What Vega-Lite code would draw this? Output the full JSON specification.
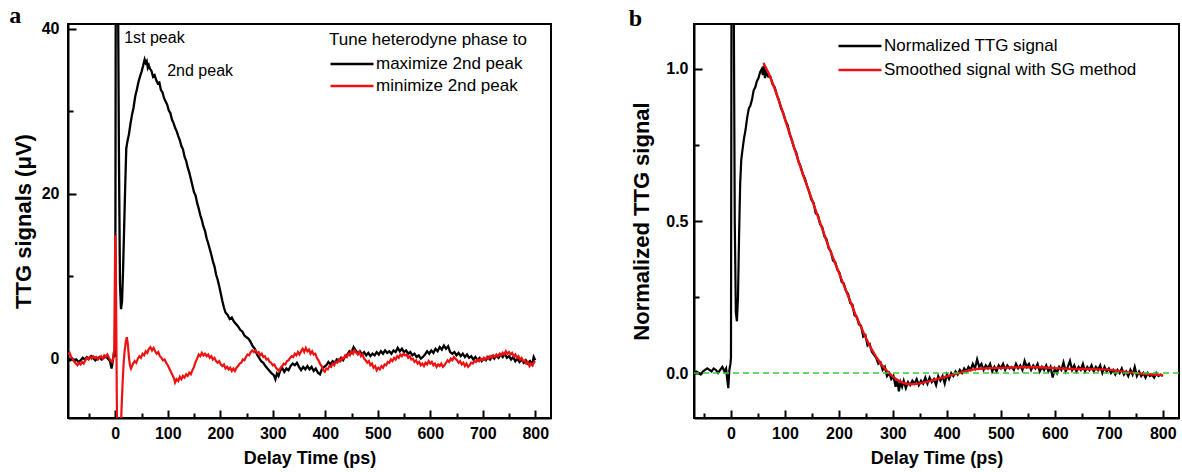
{
  "$schema": "https://vega.github.io/schema/vega-lite/v6.json",
  "padding": {"left": 8, "top": 2, "right": 5, "bottom": 5},
  "background": "white",
  "bounds": "flush",
  "spacing": 143,
  "resolve": {"scale": {"color": "independent"}, "legend": {"color": "independent"}},
  "config": {
    "font": "Liberation Sans",
    "view": {"stroke": "black", "strokeWidth": 2},
    "axis": {
      "grid": false,
      "domainColor": "black",
      "domainWidth": 2,
      "tickColor": "black",
      "tickWidth": 2,
      "tickSize": -8,
      "labelFont": "Liberation Sans",
      "labelFontWeight": "bold",
      "labelFontSize": 16,
      "labelColor": "black",
      "titleFont": "Liberation Sans",
      "titleFontWeight": "bold",
      "titleFontSize": 18,
      "titleColor": "black"
    },
    "legend": {
      "labelFont": "Liberation Sans",
      "labelFontSize": 17,
      "labelColor": "black",
      "labelLimit": 0,
      "titleLimit": 0,
      "titleFont": "Liberation Sans",
      "titleFontSize": 17,
      "titleFontWeight": "normal",
      "titleColor": "black",
      "symbolType": "stroke",
      "symbolSize": 1849,
      "symbolStrokeWidth": 2.5,
      "clipHeight": 16,
      "labelOffset": 1,
      "padding": 0
    },
    "title": {"font": "Liberation Serif", "fontSize": 24, "fontWeight": "bold", "color": "black", "anchor": "start", "frame": "bounds"}
  },
  "datasets": {
    "aK": [
      {"t":-90,"v":0.1},{"t":-86,"v":-0.2},{"t":-82,"v":0.0},{"t":-78,"v":-0.3},{"t":-74,"v":-0.1},{"t":-70,"v":-0.4},{"t":-66,"v":-0.2},{"t":-62,"v":0.1},{"t":-58,"v":-0.1},{"t":-54,"v":0.2},{"t":-50,"v":0.0},{"t":-46,"v":0.3},{"t":-42,"v":0.1},{"t":-38,"v":-0.2},{"t":-34,"v":0.0},{"t":-30,"v":0.2},{"t":-26,"v":-0.1},{"t":-22,"v":0.1},{"t":-18,"v":0.3},{"t":-14,"v":0.0},{"t":-10,"v":-0.3},{"t":-7,"v":-1.2},{"t":-5,"v":-0.4},{"t":-3,"v":0.5},{"t":-1,"v":0.2},{"t":0,"v":2},{"t":1,"v":48},{"t":5,"v":48},{"t":7,"v":25},{"t":9,"v":9},{"t":11,"v":6},{"t":13,"v":7},{"t":15,"v":11},{"t":17,"v":16},{"t":19,"v":21},{"t":21,"v":25.5},{"t":23,"v":26.3},{"t":26,"v":27.2},{"t":29,"v":28.5},{"t":32,"v":29.6},{"t":35,"v":30.5},{"t":38,"v":31.8},{"t":41,"v":32.6},{"t":44,"v":33.5},{"t":47,"v":34.2},{"t":50,"v":34.8},{"t":53,"v":35.5},{"t":56,"v":36.3},{"t":58,"v":35.9},{"t":60,"v":36.1},{"t":62,"v":35.3},{"t":64,"v":35.6},{"t":66,"v":35.2},{"t":69,"v":34.9},{"t":72,"v":34.2},{"t":75,"v":34.4},{"t":78,"v":33.8},{"t":81,"v":33.4},{"t":84,"v":33.5},{"t":87,"v":32.6},{"t":90,"v":32.3},{"t":93,"v":31.6},{"t":96,"v":31.2},{"t":99,"v":30.8},{"t":102,"v":30.1},{"t":105,"v":29.8},{"t":108,"v":29.0},{"t":111,"v":28.6},{"t":114,"v":28.0},{"t":117,"v":27.6},{"t":120,"v":27.0},{"t":123,"v":26.5},{"t":126,"v":25.8},{"t":129,"v":25.4},{"t":132,"v":24.5},{"t":135,"v":24.0},{"t":138,"v":23.2},{"t":141,"v":22.6},{"t":144,"v":21.8},{"t":147,"v":21.0},{"t":150,"v":20.2},{"t":153,"v":19.8},{"t":156,"v":18.9},{"t":159,"v":18.2},{"t":162,"v":17.4},{"t":165,"v":16.8},{"t":168,"v":16.0},{"t":171,"v":15.5},{"t":174,"v":14.6},{"t":177,"v":14.0},{"t":180,"v":13.3},{"t":183,"v":12.6},{"t":186,"v":11.8},{"t":189,"v":11.2},{"t":192,"v":10.2},{"t":195,"v":9.6},{"t":198,"v":8.8},{"t":201,"v":7.9},{"t":204,"v":7.0},{"t":207,"v":6.2},{"t":210,"v":5.6},{"t":214,"v":5.3},{"t":218,"v":4.8},{"t":222,"v":5.0},{"t":226,"v":4.5},{"t":230,"v":4.2},{"t":234,"v":3.9},{"t":238,"v":3.5},{"t":242,"v":3.3},{"t":246,"v":2.8},{"t":250,"v":2.6},{"t":254,"v":2.4},{"t":258,"v":2.0},{"t":262,"v":1.5},{"t":266,"v":1.2},{"t":270,"v":0.5},{"t":274,"v":0.1},{"t":278,"v":-0.3},{"t":282,"v":-0.5},{"t":286,"v":-0.9},{"t":290,"v":-1.2},{"t":294,"v":-1.5},{"t":298,"v":-1.8},{"t":302,"v":-2.0},{"t":305,"v":-2.5},{"t":308,"v":-1.8},{"t":311,"v":-2.1},{"t":314,"v":-1.5},{"t":318,"v":-1.1},{"t":322,"v":-1.6},{"t":326,"v":-1.2},{"t":330,"v":-1.4},{"t":334,"v":-0.9},{"t":338,"v":-0.6},{"t":342,"v":-0.8},{"t":346,"v":-0.5},{"t":350,"v":-1.0},{"t":354,"v":-1.4},{"t":358,"v":-1.0},{"t":362,"v":-1.3},{"t":366,"v":-0.9},{"t":370,"v":-1.3},{"t":374,"v":-1.0},{"t":378,"v":-1.5},{"t":382,"v":-1.2},{"t":386,"v":-1.7},{"t":390,"v":-1.9},{"t":394,"v":-1.2},{"t":398,"v":-1.0},{"t":402,"v":-0.8},{"t":406,"v":-0.4},{"t":410,"v":-0.7},{"t":414,"v":-0.3},{"t":418,"v":-0.5},{"t":422,"v":-0.1},{"t":426,"v":-0.3},{"t":430,"v":0.1},{"t":434,"v":-0.2},{"t":438,"v":0.3},{"t":442,"v":0.5},{"t":446,"v":0.9},{"t":450,"v":0.7},{"t":454,"v":1.4},{"t":458,"v":1.0},{"t":462,"v":0.6},{"t":466,"v":0.9},{"t":470,"v":0.5},{"t":474,"v":0.8},{"t":478,"v":0.4},{"t":482,"v":0.7},{"t":486,"v":0.3},{"t":490,"v":0.6},{"t":494,"v":0.4},{"t":498,"v":0.8},{"t":502,"v":0.5},{"t":506,"v":0.9},{"t":510,"v":0.6},{"t":514,"v":1.0},{"t":518,"v":0.7},{"t":522,"v":0.9},{"t":526,"v":0.6},{"t":530,"v":1.0},{"t":534,"v":0.8},{"t":538,"v":1.3},{"t":542,"v":0.9},{"t":546,"v":1.2},{"t":550,"v":0.8},{"t":554,"v":1.0},{"t":558,"v":0.6},{"t":562,"v":0.8},{"t":566,"v":0.4},{"t":570,"v":0.6},{"t":574,"v":0.2},{"t":578,"v":0.4},{"t":582,"v":0.0},{"t":586,"v":0.2},{"t":590,"v":0.5},{"t":594,"v":0.9},{"t":598,"v":0.6},{"t":602,"v":1.0},{"t":606,"v":0.7},{"t":610,"v":1.2},{"t":614,"v":0.9},{"t":618,"v":1.4},{"t":622,"v":1.1},{"t":626,"v":1.6},{"t":630,"v":1.2},{"t":634,"v":1.5},{"t":638,"v":0.8},{"t":642,"v":0.6},{"t":646,"v":0.8},{"t":650,"v":0.4},{"t":654,"v":0.7},{"t":658,"v":0.3},{"t":662,"v":0.6},{"t":666,"v":0.2},{"t":670,"v":0.5},{"t":674,"v":0.1},{"t":678,"v":0.3},{"t":682,"v":-0.1},{"t":686,"v":0.2},{"t":690,"v":-0.2},{"t":694,"v":0.1},{"t":698,"v":-0.3},{"t":702,"v":0.0},{"t":706,"v":-0.2},{"t":710,"v":0.2},{"t":714,"v":-0.1},{"t":718,"v":0.3},{"t":722,"v":0.0},{"t":726,"v":0.4},{"t":730,"v":0.1},{"t":734,"v":0.5},{"t":738,"v":0.2},{"t":742,"v":0.6},{"t":746,"v":0.1},{"t":750,"v":0.3},{"t":754,"v":-0.1},{"t":758,"v":0.2},{"t":762,"v":-0.3},{"t":766,"v":0.0},{"t":770,"v":-0.4},{"t":774,"v":-0.1},{"t":778,"v":-0.5},{"t":782,"v":-0.2},{"t":786,"v":-0.6},{"t":790,"v":-0.3},{"t":794,"v":-0.7},{"t":797,"v":0.2},{"t":800,"v":-0.2}
    ],
    "aR": [
      {"t":-90,"v":0.5},{"t":-87,"v":0.7},{"t":-84,"v":0.2},{"t":-81,"v":0.0},{"t":-78,"v":-0.4},{"t":-75,"v":-0.6},{"t":-72,"v":-0.8},{"t":-69,"v":-0.5},{"t":-66,"v":-0.7},{"t":-63,"v":-0.4},{"t":-60,"v":-0.6},{"t":-57,"v":-0.2},{"t":-54,"v":0.1},{"t":-51,"v":-0.1},{"t":-48,"v":0.2},{"t":-45,"v":0.0},{"t":-42,"v":0.3},{"t":-39,"v":0.1},{"t":-36,"v":0.2},{"t":-33,"v":-0.1},{"t":-30,"v":0.1},{"t":-27,"v":0.3},{"t":-24,"v":0.0},{"t":-21,"v":0.4},{"t":-18,"v":0.2},{"t":-15,"v":0.5},{"t":-12,"v":0.1},{"t":-9,"v":-0.2},{"t":-6,"v":-0.4},{"t":-4,"v":0.0},{"t":-2,"v":1.0},{"t":-1,"v":8},{"t":0,"v":15},{"t":1,"v":12},{"t":2,"v":4},{"t":3,"v":-5},{"t":4,"v":-12},{"t":6,"v":-14},{"t":8,"v":-13},{"t":10,"v":-10},{"t":12,"v":-6},{"t":14,"v":-3},{"t":16,"v":-0.5},{"t":18,"v":1.0},{"t":20,"v":2.0},{"t":22,"v":2.6},{"t":24,"v":1.8},{"t":26,"v":0.2},{"t":28,"v":-0.8},{"t":30,"v":-1.2},{"t":32,"v":-0.9},{"t":34,"v":-0.6},{"t":37,"v":-0.3},{"t":40,"v":-0.5},{"t":43,"v":0.0},{"t":46,"v":0.3},{"t":49,"v":0.1},{"t":52,"v":0.6},{"t":55,"v":0.4},{"t":58,"v":0.9},{"t":61,"v":0.7},{"t":64,"v":1.2},{"t":67,"v":1.4},{"t":70,"v":1.0},{"t":73,"v":1.3},{"t":76,"v":0.9},{"t":79,"v":0.6},{"t":82,"v":0.8},{"t":85,"v":0.3},{"t":88,"v":0.1},{"t":91,"v":-0.2},{"t":94,"v":-0.1},{"t":97,"v":-0.5},{"t":100,"v":-0.8},{"t":103,"v":-1.2},{"t":106,"v":-1.6},{"t":109,"v":-2.0},{"t":112,"v":-2.4},{"t":114,"v":-2.9},{"t":117,"v":-2.5},{"t":120,"v":-2.7},{"t":123,"v":-2.2},{"t":126,"v":-2.5},{"t":129,"v":-2.1},{"t":132,"v":-2.3},{"t":135,"v":-1.9},{"t":138,"v":-2.1},{"t":141,"v":-1.7},{"t":144,"v":-1.9},{"t":147,"v":-1.4},{"t":150,"v":-1.0},{"t":153,"v":-0.4},{"t":156,"v":0.0},{"t":159,"v":0.5},{"t":162,"v":0.3},{"t":165,"v":0.7},{"t":168,"v":0.4},{"t":171,"v":0.6},{"t":174,"v":0.3},{"t":177,"v":0.5},{"t":180,"v":0.1},{"t":183,"v":0.3},{"t":186,"v":-0.1},{"t":189,"v":0.1},{"t":192,"v":-0.3},{"t":195,"v":-0.5},{"t":198,"v":-0.3},{"t":201,"v":-0.7},{"t":204,"v":-0.9},{"t":207,"v":-0.7},{"t":210,"v":-1.2},{"t":213,"v":-1.0},{"t":216,"v":-1.3},{"t":219,"v":-1.1},{"t":222,"v":-1.5},{"t":225,"v":-1.2},{"t":228,"v":-1.5},{"t":231,"v":-1.1},{"t":234,"v":-0.9},{"t":237,"v":-0.6},{"t":240,"v":-0.5},{"t":243,"v":-0.1},{"t":246,"v":-0.2},{"t":249,"v":0.2},{"t":252,"v":0.5},{"t":255,"v":0.4},{"t":258,"v":0.8},{"t":261,"v":1.0},{"t":264,"v":0.8},{"t":267,"v":1.0},{"t":270,"v":0.7},{"t":273,"v":0.8},{"t":276,"v":0.4},{"t":279,"v":0.6},{"t":282,"v":0.2},{"t":285,"v":0.3},{"t":288,"v":-0.1},{"t":291,"v":0.0},{"t":294,"v":-0.4},{"t":297,"v":-0.5},{"t":300,"v":-0.8},{"t":303,"v":-0.7},{"t":306,"v":-1.1},{"t":309,"v":-1.3},{"t":312,"v":-1.5},{"t":315,"v":-1.1},{"t":318,"v":-0.9},{"t":321,"v":-0.6},{"t":324,"v":-0.7},{"t":327,"v":-0.3},{"t":330,"v":-0.2},{"t":333,"v":0.1},{"t":336,"v":0.3},{"t":339,"v":0.2},{"t":342,"v":0.6},{"t":345,"v":0.4},{"t":348,"v":0.8},{"t":351,"v":0.5},{"t":354,"v":0.9},{"t":357,"v":1.2},{"t":360,"v":0.8},{"t":363,"v":1.3},{"t":366,"v":0.9},{"t":369,"v":1.1},{"t":372,"v":0.6},{"t":375,"v":0.9},{"t":378,"v":0.5},{"t":381,"v":0.6},{"t":384,"v":0.1},{"t":387,"v":-0.2},{"t":390,"v":-0.6},{"t":393,"v":-0.9},{"t":396,"v":-1.4},{"t":399,"v":-1.6},{"t":402,"v":-1.2},{"t":405,"v":-1.3},{"t":408,"v":-0.9},{"t":411,"v":-1.0},{"t":414,"v":-0.6},{"t":417,"v":-0.8},{"t":420,"v":-0.4},{"t":423,"v":-0.5},{"t":426,"v":-0.1},{"t":429,"v":-0.3},{"t":432,"v":0.1},{"t":435,"v":0.0},{"t":438,"v":0.4},{"t":441,"v":0.2},{"t":444,"v":0.6},{"t":447,"v":0.4},{"t":450,"v":0.9},{"t":453,"v":0.6},{"t":456,"v":1.0},{"t":459,"v":0.7},{"t":462,"v":0.5},{"t":465,"v":0.8},{"t":468,"v":0.3},{"t":471,"v":0.5},{"t":474,"v":0.0},{"t":477,"v":-0.2},{"t":480,"v":-0.5},{"t":483,"v":-0.3},{"t":486,"v":-0.8},{"t":489,"v":-0.6},{"t":492,"v":-1.1},{"t":495,"v":-0.9},{"t":498,"v":-1.4},{"t":501,"v":-1.1},{"t":504,"v":-1.3},{"t":507,"v":-0.9},{"t":510,"v":-1.1},{"t":513,"v":-0.7},{"t":516,"v":-0.8},{"t":519,"v":-0.4},{"t":522,"v":-0.5},{"t":525,"v":-0.1},{"t":528,"v":-0.3},{"t":531,"v":0.1},{"t":534,"v":-0.1},{"t":537,"v":0.3},{"t":540,"v":0.1},{"t":543,"v":0.5},{"t":546,"v":0.3},{"t":549,"v":0.6},{"t":552,"v":0.4},{"t":555,"v":0.5},{"t":558,"v":0.1},{"t":561,"v":0.3},{"t":564,"v":-0.1},{"t":567,"v":0.0},{"t":570,"v":-0.4},{"t":573,"v":-0.2},{"t":576,"v":-0.6},{"t":579,"v":-0.4},{"t":582,"v":-0.8},{"t":585,"v":-0.6},{"t":588,"v":-0.9},{"t":591,"v":-0.5},{"t":594,"v":-0.7},{"t":597,"v":-0.3},{"t":600,"v":-0.6},{"t":603,"v":-0.4},{"t":606,"v":-0.8},{"t":609,"v":-0.6},{"t":612,"v":-1.0},{"t":615,"v":-0.7},{"t":618,"v":-0.9},{"t":621,"v":-0.6},{"t":624,"v":-1.0},{"t":627,"v":-0.8},{"t":630,"v":-0.5},{"t":633,"v":-0.2},{"t":636,"v":-0.4},{"t":639,"v":0.0},{"t":642,"v":-0.2},{"t":645,"v":0.2},{"t":648,"v":0.0},{"t":651,"v":-0.2},{"t":654,"v":-0.5},{"t":657,"v":-0.3},{"t":660,"v":-0.7},{"t":663,"v":-0.5},{"t":666,"v":-0.9},{"t":669,"v":-0.6},{"t":672,"v":-1.0},{"t":675,"v":-0.8},{"t":678,"v":-0.5},{"t":681,"v":-0.6},{"t":684,"v":-0.3},{"t":687,"v":-0.4},{"t":690,"v":-0.1},{"t":693,"v":-0.3},{"t":696,"v":0.0},{"t":699,"v":-0.2},{"t":702,"v":0.1},{"t":705,"v":-0.1},{"t":708,"v":0.2},{"t":711,"v":0.0},{"t":714,"v":0.3},{"t":717,"v":0.1},{"t":720,"v":0.4},{"t":723,"v":0.2},{"t":726,"v":0.5},{"t":729,"v":0.3},{"t":732,"v":0.6},{"t":735,"v":0.4},{"t":738,"v":0.7},{"t":741,"v":0.5},{"t":744,"v":0.9},{"t":747,"v":0.6},{"t":750,"v":0.8},{"t":753,"v":0.5},{"t":756,"v":0.7},{"t":759,"v":0.3},{"t":762,"v":0.5},{"t":765,"v":0.1},{"t":768,"v":0.3},{"t":771,"v":-0.1},{"t":774,"v":0.1},{"t":777,"v":-0.3},{"t":780,"v":-0.2},{"t":783,"v":-0.6},{"t":786,"v":-0.4},{"t":789,"v":-0.9},{"t":792,"v":-0.6},{"t":795,"v":-0.8},{"t":798,"v":-0.4},{"t":800,"v":-0.3}
    ],
    "bK": [
      {"t":-68,"v":0.0},{"t":-64,"v":0.005},{"t":-60,"v":0.0},{"t":-56,"v":-0.005},{"t":-52,"v":0.005},{"t":-48,"v":0.01},{"t":-44,"v":0.015},{"t":-40,"v":0.01},{"t":-36,"v":0.005},{"t":-32,"v":0.015},{"t":-28,"v":0.01},{"t":-24,"v":0.0},{"t":-20,"v":0.01},{"t":-16,"v":0.02},{"t":-12,"v":0.005},{"t":-9,"v":0.015},{"t":-7,"v":-0.02},{"t":-5,"v":-0.05},{"t":-3,"v":0.01},{"t":-1,"v":0.03},{"t":0,"v":0.05},{"t":1,"v":1.3},{"t":5,"v":1.3},{"t":7,"v":0.5},{"t":9,"v":0.2},{"t":11,"v":0.17},{"t":13,"v":0.25},{"t":15,"v":0.45},{"t":17,"v":0.62},{"t":19,"v":0.7},{"t":21,"v":0.73},{"t":24,"v":0.77},{"t":27,"v":0.8},{"t":30,"v":0.84},{"t":33,"v":0.87},{"t":36,"v":0.88},{"t":39,"v":0.9},{"t":42,"v":0.93},{"t":45,"v":0.94},{"t":48,"v":0.96},{"t":51,"v":0.97},{"t":54,"v":0.99},{"t":57,"v":1.0},{"t":59,"v":0.98},{"t":61,"v":1.01},{"t":63,"v":0.97},{"t":65,"v":0.99},{"t":69,"v":0.975},{"t":73,"v":0.975},{"t":77,"v":0.95},{"t":81,"v":0.94},{"t":85,"v":0.915},{"t":89,"v":0.895},{"t":93,"v":0.87},{"t":97,"v":0.855},{"t":101,"v":0.83},{"t":105,"v":0.815},{"t":109,"v":0.785},{"t":113,"v":0.765},{"t":117,"v":0.74},{"t":121,"v":0.725},{"t":125,"v":0.695},{"t":129,"v":0.68},{"t":133,"v":0.655},{"t":137,"v":0.64},{"t":141,"v":0.615},{"t":145,"v":0.595},{"t":149,"v":0.57},{"t":153,"v":0.56},{"t":157,"v":0.525},{"t":161,"v":0.52},{"t":165,"v":0.49},{"t":169,"v":0.48},{"t":173,"v":0.45},{"t":177,"v":0.44},{"t":181,"v":0.41},{"t":185,"v":0.4},{"t":189,"v":0.37},{"t":193,"v":0.365},{"t":197,"v":0.34},{"t":201,"v":0.33},{"t":205,"v":0.3},{"t":209,"v":0.295},{"t":213,"v":0.27},{"t":217,"v":0.26},{"t":221,"v":0.23},{"t":225,"v":0.225},{"t":229,"v":0.19},{"t":233,"v":0.185},{"t":237,"v":0.16},{"t":241,"v":0.155},{"t":245,"v":0.12},{"t":249,"v":0.125},{"t":253,"v":0.09},{"t":257,"v":0.095},{"t":261,"v":0.07},{"t":265,"v":0.06},{"t":269,"v":0.05},{"t":273,"v":0.03},{"t":277,"v":0.035},{"t":281,"v":0.01},{"t":285,"v":0.02},{"t":289,"v":-0.01},{"t":293,"v":0.0},{"t":297,"v":-0.02},{"t":301,"v":-0.01},{"t":305,"v":-0.045},{"t":308,"v":-0.02},{"t":311,"v":-0.06},{"t":314,"v":-0.03},{"t":317,"v":-0.045},{"t":320,"v":-0.025},{"t":324,"v":-0.05},{"t":328,"v":-0.03},{"t":332,"v":-0.04},{"t":336,"v":-0.025},{"t":340,"v":-0.035},{"t":344,"v":-0.02},{"t":348,"v":-0.04},{"t":352,"v":-0.025},{"t":356,"v":-0.035},{"t":360,"v":-0.015},{"t":364,"v":-0.035},{"t":368,"v":-0.015},{"t":372,"v":-0.03},{"t":376,"v":-0.02},{"t":380,"v":-0.04},{"t":384,"v":-0.01},{"t":388,"v":-0.025},{"t":392,"v":-0.01},{"t":396,"v":-0.035},{"t":400,"v":-0.005},{"t":404,"v":-0.02},{"t":408,"v":0.0},{"t":412,"v":-0.01},{"t":416,"v":0.005},{"t":420,"v":-0.005},{"t":424,"v":0.01},{"t":428,"v":0.0},{"t":432,"v":0.015},{"t":436,"v":0.005},{"t":440,"v":0.02},{"t":444,"v":0.01},{"t":448,"v":0.03},{"t":452,"v":0.015},{"t":456,"v":0.045},{"t":460,"v":0.02},{"t":464,"v":0.03},{"t":468,"v":0.01},{"t":472,"v":0.025},{"t":476,"v":0.015},{"t":480,"v":0.03},{"t":484,"v":0.005},{"t":488,"v":0.02},{"t":492,"v":0.005},{"t":496,"v":0.025},{"t":500,"v":0.015},{"t":504,"v":0.03},{"t":508,"v":0.01},{"t":512,"v":0.025},{"t":516,"v":0.015},{"t":520,"v":0.02},{"t":524,"v":0.01},{"t":528,"v":0.03},{"t":532,"v":0.015},{"t":536,"v":0.025},{"t":540,"v":0.01},{"t":544,"v":0.04},{"t":548,"v":0.02},{"t":552,"v":0.03},{"t":556,"v":0.01},{"t":560,"v":0.025},{"t":564,"v":0.015},{"t":568,"v":0.03},{"t":572,"v":0.005},{"t":576,"v":0.02},{"t":580,"v":0.01},{"t":584,"v":0.025},{"t":588,"v":0.005},{"t":592,"v":0.02},{"t":596,"v":-0.015},{"t":600,"v":0.015},{"t":604,"v":0.0},{"t":608,"v":0.02},{"t":612,"v":0.01},{"t":616,"v":0.035},{"t":620,"v":0.005},{"t":624,"v":0.02},{"t":628,"v":0.04},{"t":632,"v":0.01},{"t":636,"v":0.025},{"t":640,"v":0.005},{"t":644,"v":0.02},{"t":648,"v":0.01},{"t":652,"v":0.03},{"t":656,"v":0.005},{"t":660,"v":0.02},{"t":664,"v":0.01},{"t":668,"v":0.025},{"t":672,"v":0.005},{"t":676,"v":0.02},{"t":680,"v":0.01},{"t":684,"v":0.025},{"t":688,"v":0.0},{"t":692,"v":0.02},{"t":696,"v":0.005},{"t":700,"v":0.015},{"t":704,"v":0.0},{"t":708,"v":0.01},{"t":712,"v":-0.005},{"t":716,"v":0.01},{"t":720,"v":0.0},{"t":724,"v":0.015},{"t":728,"v":-0.005},{"t":732,"v":0.005},{"t":736,"v":-0.01},{"t":740,"v":0.01},{"t":744,"v":-0.005},{"t":748,"v":0.02},{"t":752,"v":-0.01},{"t":756,"v":0.005},{"t":760,"v":-0.01},{"t":764,"v":0.0},{"t":768,"v":-0.015},{"t":772,"v":0.0},{"t":776,"v":-0.01},{"t":780,"v":-0.005},{"t":784,"v":-0.015},{"t":788,"v":0.0},{"t":792,"v":-0.01},{"t":796,"v":-0.005},{"t":800,"v":-0.01}
    ],
    "bR": [
      {"t":60,"v":1.02},{"t":70,"v":0.985},{"t":80,"v":0.94},{"t":90,"v":0.89},{"t":100,"v":0.835},{"t":110,"v":0.78},{"t":120,"v":0.725},{"t":130,"v":0.67},{"t":140,"v":0.62},{"t":150,"v":0.57},{"t":160,"v":0.52},{"t":170,"v":0.47},{"t":180,"v":0.42},{"t":190,"v":0.375},{"t":200,"v":0.33},{"t":210,"v":0.285},{"t":220,"v":0.24},{"t":230,"v":0.195},{"t":240,"v":0.155},{"t":250,"v":0.115},{"t":260,"v":0.08},{"t":270,"v":0.05},{"t":280,"v":0.025},{"t":290,"v":0.005},{"t":300,"v":-0.012},{"t":310,"v":-0.025},{"t":320,"v":-0.033},{"t":330,"v":-0.037},{"t":340,"v":-0.036},{"t":350,"v":-0.034},{"t":360,"v":-0.03},{"t":370,"v":-0.026},{"t":380,"v":-0.021},{"t":390,"v":-0.016},{"t":400,"v":-0.011},{"t":410,"v":-0.006},{"t":420,"v":-0.001},{"t":430,"v":0.004},{"t":440,"v":0.008},{"t":450,"v":0.012},{"t":460,"v":0.014},{"t":480,"v":0.016},{"t":500,"v":0.017},{"t":520,"v":0.018},{"t":540,"v":0.019},{"t":560,"v":0.019},{"t":580,"v":0.018},{"t":600,"v":0.016},{"t":620,"v":0.014},{"t":640,"v":0.013},{"t":660,"v":0.013},{"t":680,"v":0.012},{"t":700,"v":0.011},{"t":720,"v":0.006},{"t":740,"v":0.002},{"t":760,"v":-0.002},{"t":780,"v":-0.005},{"t":800,"v":-0.007}
    ]
  },
  "hconcat": [
    {
      "width": 483,
      "height": 394,
      "title": {"text": "a", "dx": -3, "offset": -7},
      "layer": [
        {
          "data": {"name": "aK"},
          "mark": {"type": "line", "clip": true, "strokeWidth": 2.3},
          "encoding": {
            "x": {"field": "t", "type": "quantitative", "scale": {"domain": [-90, 830], "nice": false, "zero": false},
                  "axis": {"orient": "bottom", "values": [0,100,200,300,400,500,600,700,800], "title": "Delay Time (ps)", "labelPadding": 15, "titlePadding": 8}},
            "y": {"field": "v", "type": "quantitative", "scale": {"domain": [-7.2, 40.6], "nice": false, "zero": false},
                  "axis": {"orient": "left", "values": [0,20,40], "title": "TTG signals (μV)", "titleFontSize": 22, "labelPadding": 17, "titlePadding": 6}},
            "color": {"datum": "maximize 2nd peak", "type": "nominal",
                      "scale": {"domain": ["maximize 2nd peak", "minimize 2nd peak"], "range": ["#000000", "#ee1111"]},
                      "legend": {"title": "Tune heterodyne phase to", "orient": "none", "legendX": 261, "legendY": 8, "titlePadding": 7, "rowPadding": 5}}
          }
        },
        {
          "data": {"name": "aR"},
          "mark": {"type": "line", "clip": true, "strokeWidth": 2.2},
          "encoding": {
            "x": {"field": "t", "type": "quantitative", "scale": {"domain": [-90, 830], "nice": false, "zero": false},
                  "axis": {"orient": "bottom", "values": [-50,50,150,250,350,450,550,650,750], "labels": false, "domain": false, "tickSize": -5, "title": null}},
            "y": {"field": "v", "type": "quantitative", "scale": {"domain": [-7.2, 40.6], "nice": false, "zero": false},
                  "axis": {"orient": "left", "values": [10,30], "labels": false, "domain": false, "tickSize": -5, "title": null}},
            "color": {"datum": "minimize 2nd peak", "type": "nominal"}
          }
        },
        {
          "data": {"values": [{"label": "1st peak"}]},
          "mark": {"type": "text", "align": "left", "baseline": "middle", "fontSize": 16, "font": "Liberation Sans", "color": "black"},
          "encoding": {"x": {"datum": 17, "type": "quantitative", "axis": null}, "y": {"datum": 38.9, "type": "quantitative", "axis": null}, "text": {"field": "label"}}
        },
        {
          "data": {"values": [{"label": "2nd peak"}]},
          "mark": {"type": "text", "align": "left", "baseline": "middle", "fontSize": 16, "font": "Liberation Sans", "color": "black"},
          "encoding": {"x": {"datum": 99, "type": "quantitative", "axis": null}, "y": {"datum": 34.9, "type": "quantitative", "axis": null}, "text": {"field": "label"}}
        }
      ],
      "resolve": {"axis": {"x": "independent", "y": "independent"}}
    },
    {
      "width": 485,
      "height": 394,
      "title": {"text": "b", "dx": -2, "offset": -7},
      "layer": [
        {
          "data": {"name": "bK"},
          "mark": {"type": "line", "clip": true, "strokeWidth": 2.2},
          "encoding": {
            "x": {"field": "t", "type": "quantitative", "scale": {"domain": [-68.5, 830], "nice": false, "zero": false},
                  "axis": {"orient": "bottom", "values": [0,100,200,300,400,500,600,700,800], "title": "Delay Time (ps)", "labelPadding": 15, "titlePadding": 8}},
            "y": {"field": "v", "type": "quantitative", "scale": {"domain": [-0.148, 1.148], "nice": false, "zero": false},
                  "axis": {"orient": "left", "values": [0,0.5,1.0], "format": ".1f", "title": "Normalized TTG signal", "titleFontSize": 22, "labelPadding": 14, "titlePadding": 12}},
            "color": {"datum": "Normalized TTG signal", "type": "nominal",
                      "scale": {"domain": ["Normalized TTG signal", "Smoothed signal with SG method"], "range": ["#000000", "#ee1111"]},
                      "legend": {"title": null, "orient": "none", "legendX": 143, "legendY": 14, "rowPadding": 7}}
          }
        },
        {
          "data": {"name": "bR"},
          "mark": {"type": "line", "clip": true, "strokeWidth": 2.4},
          "encoding": {
            "x": {"field": "t", "type": "quantitative", "scale": {"domain": [-68.5, 830], "nice": false, "zero": false},
                  "axis": {"orient": "bottom", "values": [-50,50,150,250,350,450,550,650,750], "labels": false, "domain": false, "tickSize": -5, "title": null}},
            "y": {"field": "v", "type": "quantitative", "scale": {"domain": [-0.148, 1.148], "nice": false, "zero": false},
                  "axis": {"orient": "left", "values": [0.25,0.75], "labels": false, "domain": false, "tickSize": -5, "title": null}},
            "color": {"datum": "Smoothed signal with SG method", "type": "nominal"}
          }
        },
        {
          "data": {"values": [{}]},
          "mark": {"type": "rule", "color": "#33cc33", "strokeDash": [6, 4], "strokeWidth": 1.5},
          "encoding": {"y": {"datum": 0, "type": "quantitative", "axis": null}}
        }
      ],
      "resolve": {"axis": {"x": "independent", "y": "independent"}}
    }
  ]
}
